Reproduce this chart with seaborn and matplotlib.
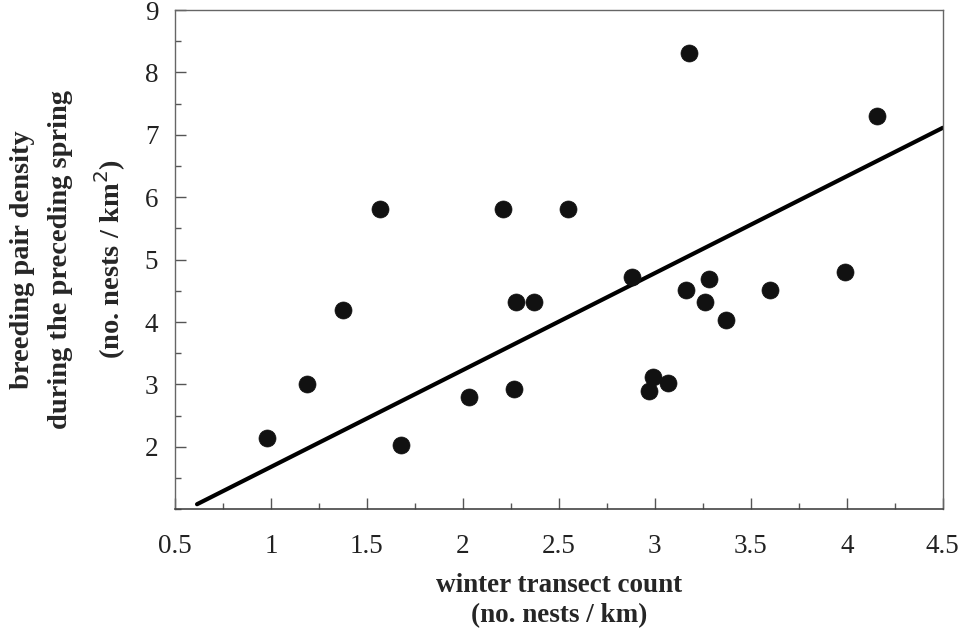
import numpy as np
import pandas as pd
import matplotlib
matplotlib.use("Agg")
import matplotlib.pyplot as plt
from matplotlib.ticker import MultipleLocator
import seaborn as sns

# Winter transect counts (nests / km) and breeding pair density (nests / km^2)
winter_count = [0.98, 1.19, 1.375, 1.57, 1.68, 2.03, 2.21, 2.265, 2.275, 2.37,
                2.55, 2.88, 2.97, 2.99, 3.07, 3.18, 3.16, 3.26, 3.28, 3.37,
                3.60, 3.99, 4.155]
pair_density = [2.14, 3.00, 4.19, 5.81, 2.03, 2.80, 5.81, 2.92, 4.32, 4.32,
                5.81, 4.72, 2.89, 3.12, 3.02, 8.32, 4.51, 4.32, 4.69, 4.03,
                4.51, 4.81, 7.31]

# Fitted regression line
fit_intercept = 0.125
fit_slope = 1.553
fit_x = [0.615, 4.5]

x_ticks = [0.5, 1, 1.5, 2, 2.5, 3, 3.5, 4, 4.5]
x_tick_labels = ["0.5", "1", "1.5", "2", "2.5", "3", "3.5", "4", "4.5"]
y_ticks = [2, 3, 4, 5, 6, 7, 8, 9]

df = pd.DataFrame({"winter": winter_count, "density": pair_density})
fit_df = pd.DataFrame({"x": fit_x,
                       "y": [fit_intercept + fit_slope * v for v in fit_x]})

sns.set_theme(style="ticks")
plt.rcParams["font.family"] = ["Liberation Serif", "DejaVu Serif"]

fig = plt.figure(figsize=(9.64, 6.31), dpi=100)
ax = fig.add_axes([0.1815, 0.193, 0.7965, 0.791])

sns.lineplot(data=fit_df, x="x", y="y", ax=ax, color="black", linewidth=3.0)
sns.scatterplot(data=df, x="winter", y="density", ax=ax, color="#111111",
                s=150, edgecolor="#111111", linewidth=0.5, zorder=3)

ax.set_xlim(0.5, 4.5)
ax.set_ylim(1, 9)
ax.set_xticks(x_ticks)
ax.set_xticklabels(x_tick_labels)
ax.set_yticks(y_ticks)
ax.xaxis.set_minor_locator(MultipleLocator(0.25))
ax.yaxis.set_minor_locator(MultipleLocator(0.5))
ax.tick_params(axis="both", which="major", direction="in", length=8,
               width=1.0, color="#555555", labelsize=19.5, labelcolor="#222222")
ax.tick_params(axis="both", which="minor", direction="in", length=4,
               width=1.0, color="#555555")
ax.tick_params(axis="x", which="major", pad=18)
ax.tick_params(axis="y", which="major", pad=12)

for side in ["top", "right", "left"]:
    ax.spines[side].set_visible(True)
    ax.spines[side].set_color("#666666")
    ax.spines[side].set_linewidth(1.0)
ax.spines["bottom"].set_color("#444444")
ax.spines["bottom"].set_linewidth(1.2)

ax.set_xlabel("winter transect count\n(no. nests / km)", fontsize=19.5,
              fontweight="bold", labelpad=10, linespacing=1.25)
ax.set_ylabel("breeding pair density\nduring the preceding spring\n"
              "(no. nests / km$^2$)", fontsize=20.5, fontweight="bold",
              labelpad=12, linespacing=1.7)

fig.savefig("out.png", dpi=100)
